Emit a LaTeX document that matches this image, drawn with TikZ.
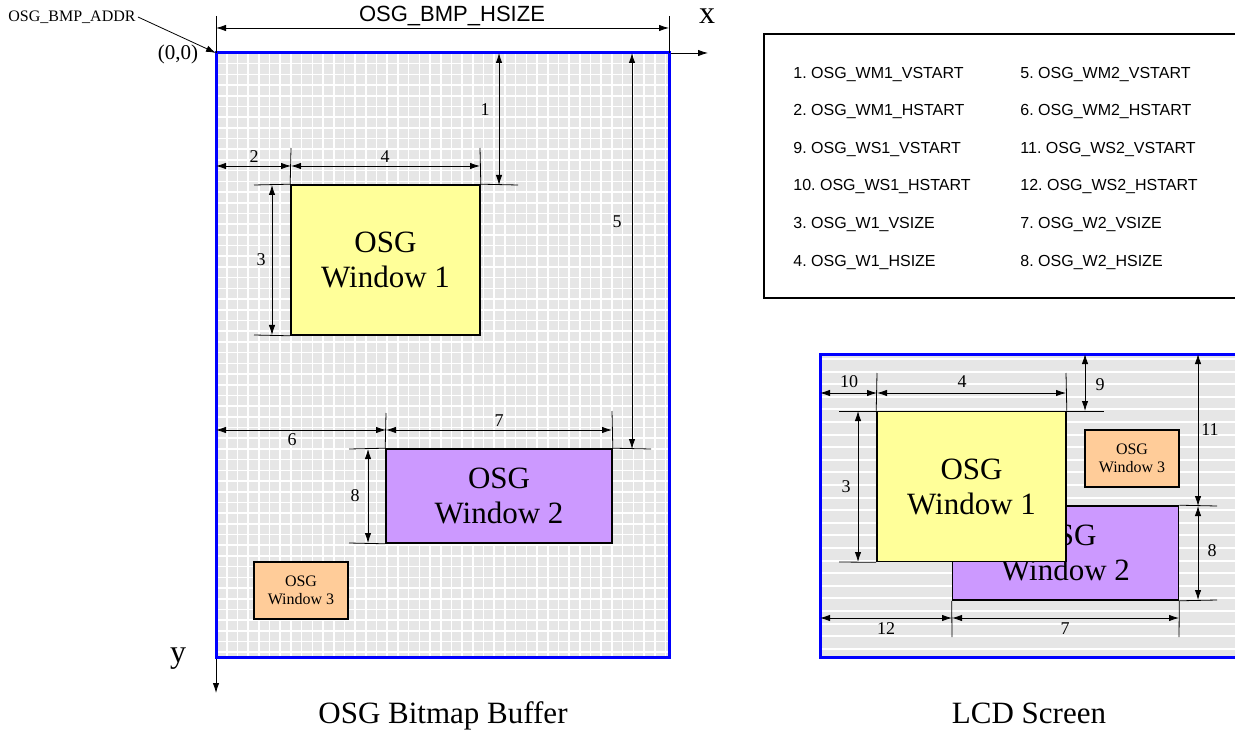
\documentclass[tikz,border=0pt]{standalone}
\usepackage{fontspec}
\setmainfont{Liberation Serif}
\newfontfamily\arialfont{Liberation Sans}
\usetikzlibrary{arrows.meta}
\definecolor{winyellow}{RGB}{255,255,153}
\definecolor{winpurple}{RGB}{204,153,255}
\definecolor{winorange}{RGB}{255,204,153}
\definecolor{bggray}{RGB}{230,230,230}
\frenchspacing
\begin{document}
\begin{tikzpicture}[x=0.5pt, y=-0.5pt,
    tip/.style={-{Latex[length=5pt,width=3.2pt]}, line width=0.4pt},
    dim/.style={{Latex[length=5pt,width=3.2pt]}-{Latex[length=5pt,width=3.2pt]}, line width=0.4pt},
    ext/.style={line width=0.4pt},
    num/.style={font=\fontsize{9}{10}\selectfont, inner sep=0pt},
    frame/.style={draw=blue, line width=1.5pt},
    win/.style={draw, line width=0.8pt, inner sep=0pt, align=center, font=\fontsize{15.5}{17.5}\selectfont},
    winone/.style={win, fill=winyellow, minimum width=94.5pt, minimum height=75pt},
    wintwo/.style={win, fill=winpurple, minimum width=113pt, minimum height=47pt},
    winthree/.style={win, fill=winorange, minimum width=47pt, minimum height=28.5pt, font=\fontsize{8}{9}\selectfont},
    legend/.style={anchor=west, font=\arialfont\fontsize{8}{9}\selectfont, inner sep=0pt},
    caption/.style={anchor=base, font=\fontsize{15.5}{17}\selectfont}
]
\clip (0,0) rectangle (1235,732);

% OSG bitmap buffer
\fill[bggray] (216,53) rectangle (669,657);
\foreach \i in {0,...,42}
    \draw[white, line width=0.8pt] (216+\i*10.7, 53) -- (216+\i*10.7, 657);
\foreach \j in {0,...,56}
    \draw[white, line width=0.8pt] (216, 53+\j*10.7) -- (669, 53+\j*10.7);
\coordinate (o) at (216,53);
\coordinate (xend) at (708,53);
\coordinate (yend) at (216,693);
\draw[tip] (o) -- (xend);
\draw[tip] (o) -- (yend);
\draw[frame] (216,53) rectangle (669,657);
\draw[ext] (216,16) -- (o);
\draw[ext] (669,16) -- (669,53);
\node[font=\fontsize{16}{18}\selectfont] (xlab) at (707,16) {x};
\node[font=\fontsize{16}{18}\selectfont] (ylab) at (178,659) {y};
\node[font=\fontsize{10.5}{12}\selectfont] (origin) at (178,54) {(0,0)};
\node[font=\fontsize{8}{9}\selectfont, inner sep=1pt] (addr) at (72,17) {OSG\_BMP\_ADDR};
\draw[tip] (addr.east) -- (o);
\draw[dim] (216,28) -- (669,28);
\node[font=\arialfont\fontsize{11}{12}\selectfont] (hsize) at (452,16) {OSG\_BMP\_HSIZE};

\node[winone] (bw1) at (385.5,260) {OSG\\Window 1};
\node[wintwo] (bw2) at (499,496) {OSG\\Window 2};
\node[winthree] (bw3) at (301,590.5) {OSG\\Window 3};

\draw[ext] (291,148) -- (bw1.north west);
\draw[ext] (480,148) -- (bw1.north east);
\draw[ext] (bw1.north east) -- (518,185);
\draw[ext] (254,185) -- (bw1.north west);
\draw[ext] (254,335) -- (bw1.south west);
\draw[dim] (216,166) -- (291,166);
\draw[dim] (291,166) -- (480,166);
\draw[dim] (499,53) -- (499,185);
\draw[dim] (272,185) -- (272,335);
\draw[dim] (632,53) -- (632,449);
\node[num] (b2) at (254,157) {2};
\node[num] (b4) at (385,157) {4};
\node[num] (b1) at (485,110) {1};
\node[num] (b3) at (261,260) {3};
\node[num] (b5) at (617,222) {5};

\draw[ext] (bw2.north east) -- (651,449);
\draw[ext] (386,413) -- (bw2.north west);
\draw[ext] (612,411) -- (bw2.north east);
\draw[ext] (349,449) -- (bw2.north west);
\draw[ext] (349,543) -- (bw2.south west);
\draw[dim] (216,430) -- (386,430);
\draw[dim] (386,430) -- (612,430);
\draw[dim] (368,449) -- (368,543);
\node[num] (b6) at (292,440) {6};
\node[num] (b7) at (499,421) {7};
\node[num] (b8) at (355,496) {8};

\node[caption] (bcap) at (443,723) {OSG Bitmap Buffer};

% register legend
\draw[line width=0.8pt] (764,34) rectangle (1245,298);
\node[legend] (l1) at (793,75) {1. OSG\_WM1\_VSTART};
\node[legend] (l2) at (793,112) {2. OSG\_WM1\_HSTART};
\node[legend] (l9) at (793,150) {9. OSG\_WS1\_VSTART};
\node[legend] (l10) at (793,187) {10. OSG\_WS1\_HSTART};
\node[legend] (l3) at (793,225) {3. OSG\_W1\_VSIZE};
\node[legend] (l4) at (793,263) {4. OSG\_W1\_HSIZE};
\node[legend] (l5) at (1020,75) {5. OSG\_WM2\_VSTART};
\node[legend] (l6) at (1020,112) {6. OSG\_WM2\_HSTART};
\node[legend] (l11) at (1020,150) {11. OSG\_WS2\_VSTART};
\node[legend] (l12) at (1020,187) {12. OSG\_WS2\_HSTART};
\node[legend] (l7) at (1020,225) {7. OSG\_W2\_VSIZE};
\node[legend] (l8) at (1020,263) {8. OSG\_W2\_HSIZE};

% LCD screen
\fill[bggray] (820,354) rectangle (1245,657);
\foreach \j in {0,...,23}
    \draw[white, line width=1pt] (820, 359+\j*12.6) -- (1245, 359+\j*12.6);
\draw[frame] (820,354) rectangle (1245,657);

\node[wintwo] (lw2) at (1065.5,553) {OSG\\Window 2};
\node[winone] (lw1) at (971.5,486.5) {OSG\\Window 1};
\node[winthree] (lw3) at (1132,458.5) {OSG\\Window 3};

\draw[ext] (877,373) -- (lw1.north west);
\draw[ext] (1066,373) -- (lw1.north east);
\draw[ext] (839,411) -- (1104,411);
\draw[ext] (839,562) -- (lw1.south west);
\draw[ext] (lw2.north east) -- (1217,506);
\draw[ext] (lw2.south east) -- (1217,600);
\draw[ext] (lw2.south west) -- (952,637);
\draw[ext] (lw2.south east) -- (1179,637);
\draw[dim] (820,393) -- (877,393);
\draw[dim] (877,393) -- (1066,393);
\draw[dim] (1085,354) -- (1085,411);
\draw[dim] (858,411) -- (858,562);
\draw[dim] (1198,354) -- (1198,506);
\draw[dim] (1198,506) -- (1198,600);
\draw[dim] (820,618) -- (952,618);
\draw[dim] (952,618) -- (1179,618);
\node[num] (s10) at (849,382) {10};
\node[num] (s4) at (962,382) {4};
\node[num] (s9) at (1100,385) {9};
\node[num] (s3) at (846,487) {3};
\node[num] (s11) at (1210,430) {11};
\node[num] (s8) at (1212,551) {8};
\node[num] (s12) at (886,629) {12};
\node[num] (s7) at (1065,629) {7};

\node[caption] (lcap) at (1029,723) {LCD Screen};
\end{tikzpicture}
\end{document}
